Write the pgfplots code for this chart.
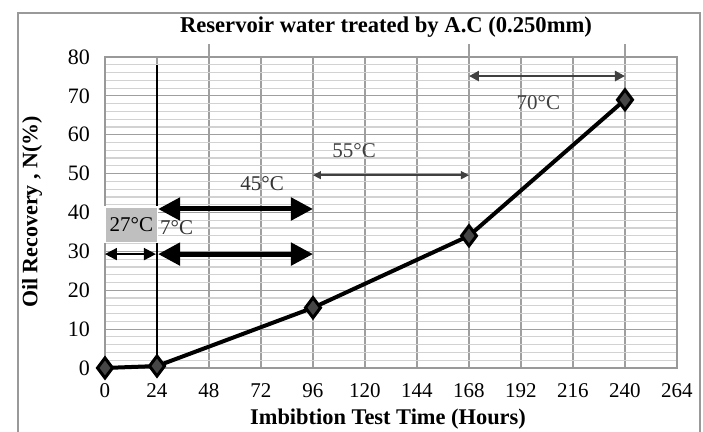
\documentclass[border=0pt]{standalone}
\usepackage{pgfplots}
\pgfplotsset{compat=1.18}
\usepackage{fontspec}
\setmainfont{Liberation Serif}
\usetikzlibrary{arrows.meta}
\begin{document}
\begin{tikzpicture}
\useasboundingbox (0,0) rectangle (351.5pt,216pt);
\draw[gray!80, line width=0.8pt] (9pt,-5pt) -- (9pt,209.5pt) -- (350pt,209.5pt) -- (350pt,-5pt);
\node[font=\bfseries\fontsize{11.3}{13}\selectfont] at (193pt,202.5pt) {Reservoir water treated by A.C (0.250mm)};
\node[font=\bfseries\fontsize{11.2}{13}\selectfont] at (194pt,6.5pt) {Imbibtion Test Time (Hours)};
\node[font=\bfseries\fontsize{11}{13}\selectfont, rotate=90] at (16pt,110pt) {Oil Recovery , N(\%)};
\begin{axis}[
  at={(52.5pt,32pt)}, anchor=south west,
  scale only axis, width=286pt, height=155.5pt,
  xmin=0, xmax=264, ymin=0, ymax=80,
  xtick={0,24,...,264}, ytick={0,10,...,80},
  minor y tick num=4,
  grid=both,
  major grid style={gray!75, line width=0.6pt},
  minor grid style={gray!35, line width=0.6pt},
  axis line style={gray!80, line width=0.6pt},
  major tick length=0pt, minor tick length=0pt,
  /pgf/number format/assume math mode=true,
  xticklabel style={anchor=base, yshift=-15pt, font=\fontsize{10.5}{12}\selectfont},
  yticklabel style={xshift=-4pt, font=\fontsize{11}{12}\selectfont},
  clip=false,
]
% extended lines above plot
\addplot[gray!75, line width=0.6pt] coordinates {(48,80) (48,83.3)};
\addplot[gray!75, line width=0.6pt] coordinates {(168,80) (168,83.3)};
\addplot[gray!75, line width=0.6pt] coordinates {(240,80) (240,83.3)};
% black vertical line at 24
\addplot[black, line width=0.8pt] coordinates {(24,0) (24,77.9)};
% arrows
\addplot[black!75, line width=1.2pt, {Triangle[length=5pt,width=5pt]}-{Triangle[length=5pt,width=5pt]}] coordinates {(168,75.1) (240,75.1)};
\node[text=black!75, font=\fontsize{10.5}{12}\selectfont] at (axis cs:200,68.2) {70°C};
\addplot[black!75, line width=0.7pt, {Triangle[length=4pt,width=4pt]}-{Triangle[length=4pt,width=4pt]}] coordinates {(96,49.6) (168,49.6)};
\node[text=black!75, font=\fontsize{10.5}{12}\selectfont] at (axis cs:115,56) {55°C};
\addplot[black, line width=2.5pt, {Triangle[length=11pt,width=11pt]}-{Triangle[length=11pt,width=11pt]}] coordinates {(24.5,40.9) (96,40.9)};
\node[text=black!80, font=\fontsize{10.5}{12}\selectfont] at (axis cs:72.5,47.3) {45°C};
\addplot[black, line width=2.5pt, {Triangle[length=11pt,width=11pt]}-{Triangle[length=11pt,width=11pt]}] coordinates {(24.5,29.3) (96,29.3)};
\node[text=black!80, font=\fontsize{10.5}{12}\selectfont, anchor=west, inner sep=0pt] at (axis cs:25.3,36) {7°C};
\addplot[black, line width=1pt, {Triangle[length=6pt,width=6pt]}-{Triangle[length=6pt,width=6pt]}] coordinates {(0,29.3) (23.5,29.3)};
\fill[gray!50, draw=white, line width=0.6pt] (axis cs:0,32.2) rectangle (axis cs:24.4,41.4);
\node[font=\fontsize{10.5}{12}\selectfont, inner sep=0pt] at (axis cs:12.2,36.8) {27°C};
% data
\addplot[black, line width=2pt, mark=diamond*, mark size=5pt,
  mark options={fill=gray!55!black, draw=black, line width=1.5pt}]
  coordinates {(0,0) (24,0.5) (96,15.5) (168,34) (240,69)};
\end{axis}
\end{tikzpicture}
\end{document}
